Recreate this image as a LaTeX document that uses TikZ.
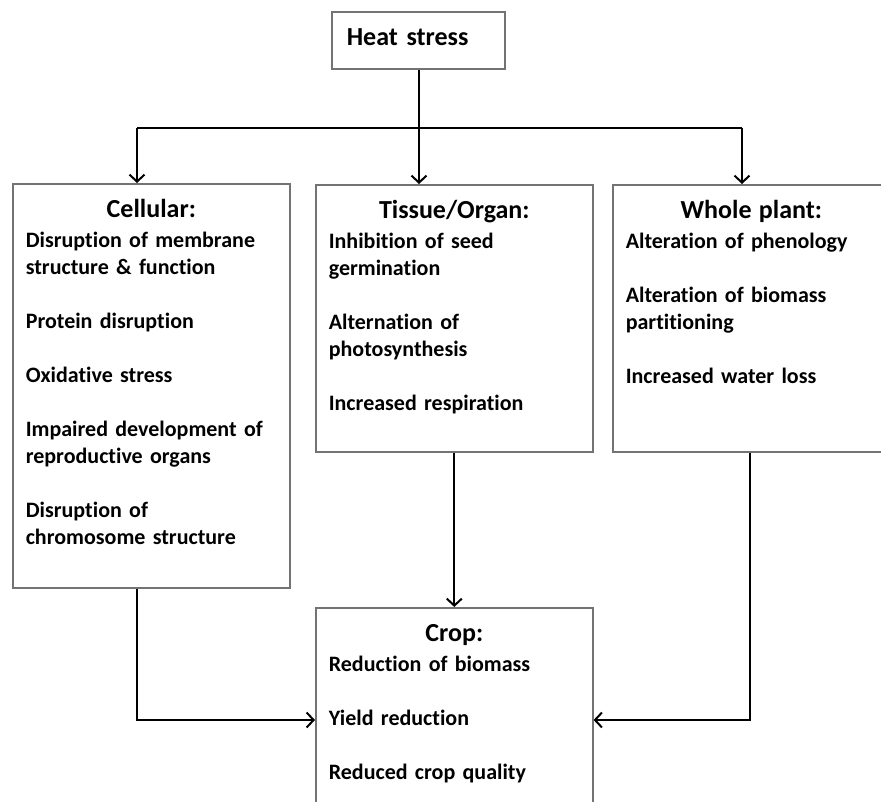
\documentclass[tikz,border=0pt]{standalone}
\usepackage{fontspec}
\setmainfont{Carlito}[Ligatures=NoCommon]
\usetikzlibrary{arrows.meta, positioning}

\newcommand{\boxtitle}[1]{\makebox[\linewidth]{\fontsize{26}{30}\selectfont #1}\\[3pt]}

\begin{document}
\begin{tikzpicture}[x=1pt,y=-1pt,>={Straight Barb[length=7pt,width=15pt]},
      panel/.style={draw=black!55,line width=1.6pt,anchor=north west,align=left,
        text width=251pt,inner xsep=13pt,inner ysep=0pt,text height=34pt,
        font=\bfseries\fontsize{22}{27}\selectfont},
      link/.style={line width=2pt}]
      \useasboundingbox (0,0) rectangle (881,802);
      \node[panel, text width=143pt, inner xsep=15pt, text depth=23pt,
        font=\bfseries\fontsize{26}{30}\selectfont] (heat) at (331,11) {Heat stress};
      \node[panel, text depth=370pt] (cell) at (12,183) {\boxtitle{Cellular:}
        Disruption of membrane\\ structure \& function\\[27pt]
        Protein disruption\\[27pt]
        Oxidative stress\\[27pt]
        Impaired development of\\ reproductive organs\\[27pt]
        Disruption of\\ chromosome structure};
      \node[panel, text depth=233pt] (tissue) at (315,184) {\boxtitle{Tissue/Organ:}
        Inhibition of seed\\ germination\\[27pt]
        Alternation of\\ photosynthesis\\[27pt]
        Increased respiration};
      \node[panel, text depth=233pt] (whole) at (612,184) {\boxtitle{Whole plant:}
        Alteration of phenology\\[27pt]
        Alteration of biomass\\ partitioning\\[27pt]
        Increased water loss};
      \node[panel, text depth=210pt] (crop) at (315,607) {\boxtitle{Crop:}
        Reduction of biomass\\[27pt]
        Yield reduction\\[27pt]
        Reduced crop quality};
      \coordinate (fork) at (419,128);
      \coordinate (forkL) at (137,128);
      \coordinate (forkR) at (742,128);
      \coordinate (joinL) at (137,720);
      \coordinate (joinR) at (750,720);
      \draw[link] (heat.south -| fork) -- (fork);
      \draw[link] (forkL) -- (forkR);
      \draw[link,->] (forkL) -- (forkL |- cell.north);
      \draw[link,->] (fork) -- (fork |- tissue.north);
      \draw[link,->] (forkR) -- (forkR |- whole.north);
      \draw[link,->] (tissue.south) -- (crop.north);
      \draw[link,->] (joinL |- cell.south) -- (joinL) -- (joinL -| crop.west);
      \draw[link,->] (joinR |- whole.south) -- (joinR) -- (joinR -| crop.east);
    \end{tikzpicture}
\end{document}
